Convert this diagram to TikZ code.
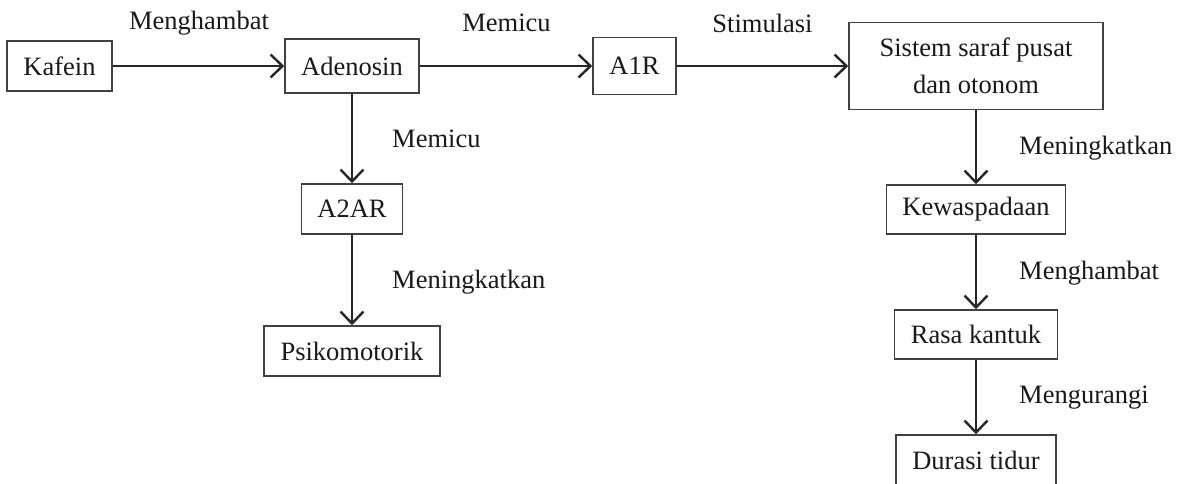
\documentclass[tikz,border=0pt]{standalone}
\usepackage{fontspec}
\setmainfont{Liberation Serif}
\usepackage{tikz}
\usetikzlibrary{arrows.meta}
\tikzset{
    every node/.style={font=\fontsize{26.5}{37}\selectfont, text=black!90}
}
\tikzset{
    kotak/.style={rectangle, draw=black!75, line width=1.5pt,
    	minimum height=50pt, inner xsep=16pt, align=center}
}
\tikzset{
    ket/.style={inner sep=0pt}
}
\tikzset{
	every edge/.append style={line width=2.6pt, draw=black!85,
		-{Straight Barb[length=12pt,width=23pt,line width=2.4pt]}}
}

\begin{document}
\begin{tikzpicture}[x=1pt,y=-1pt]
  \useasboundingbox (0,0) rectangle (1181,484);

  \node (kafein) [kotak, minimum width=105pt] at (59.5,66) {Kafein};
  
  \node (adenosin) [kotak, minimum width=134pt, minimum height=54pt] at (352,66) {Adenosin};
  
  \node (a1r) [kotak, minimum width=83pt, minimum height=57pt] at (634.5,66) {A1R};
  
  \node (saraf) [kotak, minimum width=254pt, minimum height=87pt] at (976,66) {Sistem saraf pusat\\dan otonom};
  
  \node (a2ar) [kotak, minimum width=101pt] at (352,209) {A2AR};
  
  \node (psiko) [kotak, minimum width=176pt] at (352,351) {Psikomotorik};
  
  \node (waspada) [kotak, minimum width=179pt, minimum height=49pt] at (976,209.5) {Kewaspadaan};
  
  \node (kantuk) [kotak, minimum width=163pt, minimum height=49pt] at (976,334.5) {Rasa kantuk};
  
  \node (durasi) [kotak, minimum width=160pt] at (976,460) {Durasi tidur};
  
  \node (k1) [ket] at (199,23) {Menghambat};
  \node (k2) [ket] at (506.5,23) {Memicu};
  \node (k3) [ket] at (762.5,23) {Stimulasi};
  \node (k4) [ket, anchor=west] at (392,139) {Memicu};
  \node (k5) [ket, anchor=west] at (392,282) {Meningkatkan};
  \node (k6) [ket, anchor=west] at (1019,148) {Meningkatkan};
  \node (k7) [ket, anchor=west] at (1019,273) {Menghambat};
  \node (k8) [ket, anchor=west] at (1019,398) {Mengurangi};
  
  \draw (kafein) edge (adenosin);
  \draw (adenosin) edge (a1r);
  \draw (a1r) edge (saraf);
  \draw (adenosin) edge (a2ar); \draw (a2ar) edge (psiko);
  \draw (saraf) edge (waspada); \draw (waspada) edge (kantuk);
  \draw (kantuk) edge (durasi);
\end{tikzpicture}
\end{document}
